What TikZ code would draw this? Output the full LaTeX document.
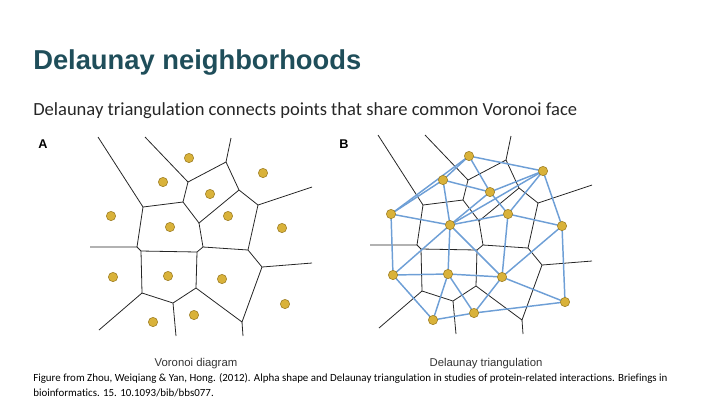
\documentclass[tikz,border=0pt]{standalone}
\usepackage{fontspec}
\setmainfont[RawFeature=-liga]{Carlito}
\newfontfamily\arialf{Liberation Sans}
\definecolor{titlec}{HTML}{1F4E5A}
\definecolor{dotc}{HTML}{D9B23A}
\definecolor{dotline}{HTML}{9A7A20}
\definecolor{delc}{HTML}{6E9FD6}
\tikzset{vor/.style={draw=black!85,line width=0.6pt},
del/.style={draw=delc,line width=1.1pt},
pt/.style={circle,fill=dotc,draw=dotline,line width=0.4pt,inner sep=0pt,minimum size=7pt}}
\newcommand{\vorlines}{
\coordinate (va) at (143,207);\coordinate (vb) at (188,182);\coordinate (vc) at (226,162);
\coordinate (vd) at (183,202);\coordinate (ve) at (239,190);\coordinate (vf) at (258,205);
\coordinate (vg) at (199,223);\coordinate (vh) at (137,247);\coordinate (vi) at (203,247);
\coordinate (vj) at (248,250);\coordinate (vk) at (141,251);\coordinate (vl) at (197,252);
\coordinate (vm) at (262,267);\coordinate (vn) at (142,293);\coordinate (vo) at (196,288);
\coordinate (vp) at (173,303);\coordinate (vq) at (242,322);
\coordinate (e1) at (98,137);\coordinate (e2) at (145,137);\coordinate (e3) at (231,138);
\coordinate (e4) at (312,187);\coordinate (e5) at (90,247);\coordinate (e6) at (312,263);
\coordinate (e7) at (99,330);\coordinate (e8) at (176,336);\coordinate (e9) at (243,336);
\draw[vor] (e1)--(va)--(vd)--(vb)--(e2);
\draw[vor] (vb)--(vc)--(e3); \draw[vor] (vc)--(ve)--(vf)--(e4);
\draw[vor] (vd)--(vg)--(ve); \draw[vor] (e5)--(vh)--(va);
\draw[vor] (vg)--(vi)--(vj)--(vf); \draw[vor] (vh)--(vk)--(vl)--(vi);
\draw[vor] (vj)--(vm)--(e6); \draw[vor] (vk)--(vn)--(vp)--(vo)--(vl);
\draw[vor] (vn)--(e7); \draw[vor] (vp)--(e8); \draw[vor] (vo)--(vq)--(vm); \draw[vor] (vq)--(e9);
}
\begin{document}
\begin{tikzpicture}[x=0.75pt,y=-0.75pt]
\useasboundingbox (0,0) rectangle (720,405);
\node[anchor=base west,inner sep=0pt,text=titlec,font=\arialf\bfseries\fontsize{20.5}{23}\selectfont] (title) at (33,69) {Delaunay neighborhoods};
\node[anchor=base west,inner sep=0pt,font=\fontsize{13.9}{16}\selectfont,text=black!85] (sub) at (33,115) {Delaunay triangulation connects points that share common Voronoi face};
\node[anchor=base west,inner sep=0pt,font=\arialf\bfseries\fontsize{9.5}{11}\selectfont] (la) at (38,148) {A};
\node[anchor=base west,inner sep=0pt,font=\arialf\bfseries\fontsize{9.5}{11}\selectfont] (lb) at (339,148) {B};
\node[anchor=base,inner sep=0pt,font=\arialf\fontsize{8.5}{10}\selectfont,text=black!80] (ca) at (196,366) {Voronoi diagram};
\node[anchor=base,inner sep=0pt,font=\arialf\fontsize{8.5}{10}\selectfont,text=black!80] (cb) at (486,366) {Delaunay triangulation};
\node[anchor=north west,inner sep=0pt,align=left,font=\fontsize{8.2}{11.5}\selectfont] (cap) at (33,373) {Figure from Zhou, Weiqiang \& Yan, Hong. (2012). Alpha shape and Delaunay triangulation in studies of protein-related interactions. Briefings in\\bioinformatics. 15. 10.1093/bib/bbs077.};
% panel A
\begin{scope}
\vorlines
\foreach \n/\x/\y in {1/189/158,2/163/182,3/210/194,4/263/173,5/111/216,6/170/227,7/228/216,8/282/228,9/113/277,10/168/276,11/222/279,12/285/304,13/153/322,14/194/315}
  \node[pt] (a\n) at (\x,\y) {};
\end{scope}
% panel B
\begin{scope}[shift={(280,-2)}]
\vorlines
\foreach \n/\x/\y in {1/189/158,2/163/182,3/210/194,4/263/173,5/111/216,6/170/227,7/228/216,8/282/228,9/113/277,10/168/276,11/222/279,12/285/304,13/153/322,14/194/315}
  \coordinate (b\n) at (\x,\y);
\foreach \u/\v in {1/2,1/5,2/5,1/4,1/3,2/3,3/4,2/6,3/6,4/6,4/7,4/8,3/7,5/6,6/7,7/8,5/9,6/9,6/10,6/11,7/11,8/11,8/12,9/10,10/11,9/13,10/13,10/14,11/14,11/12,13/14,14/12}
  \draw[del] (b\u)--(b\v);
\foreach \n in {1,...,14} \node[pt] (bb\n) at (b\n) {};
\end{scope}
\end{tikzpicture}
\end{document}
